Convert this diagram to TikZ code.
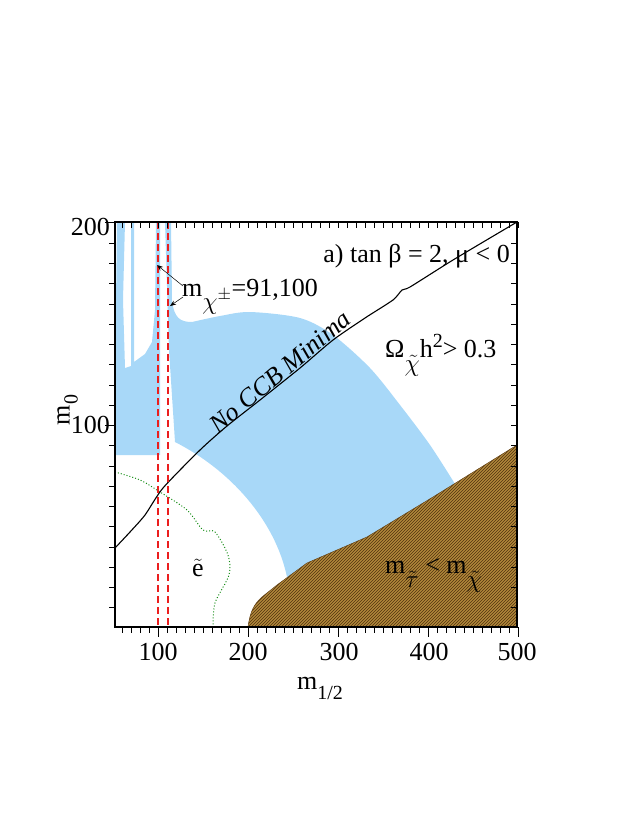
\documentclass[tikz,border=0pt]{standalone}
\usepackage{fontspec}
\setmainfont{Liberation Serif}
\usetikzlibrary{patterns,arrows.meta}
\definecolor{skyb}{RGB}{168,216,248}
\definecolor{brownc}{RGB}{178,136,58}
\definecolor{darkb}{RGB}{80,50,15}
\definecolor{redd}{RGB}{235,30,30}
\definecolor{greend}{RGB}{20,140,20}
\tikzset{lbl/.style={font=\fontsize{26}{28}\selectfont, inner sep=0pt},
 tk/.style={line width=0.8pt}}
\newcommand{\subsz}{\fontsize{20}{21}\selectfont}
\begin{document}
\begin{tikzpicture}[x=1pt,y=-1pt]
\useasboundingbox (0,0) rectangle (623,830);
% blue left part
\fill[skyb] (115,455) -- (115,385) -- (117,222) -- (125,222) -- (123,300) -- (125,368) -- (131,366) -- (131,222) -- (134,222) -- (134,362) -- (145,354) -- (152,342) -- (155,310) -- (156,222) -- (160,222) -- (160,455) -- cycle;
% blue right part
\fill[skyb] (165,222) -- (171,222) -- (172,300) .. controls (174,318) and (180,322) .. (192,322)
 -- plot[smooth] coordinates {(192,322) (220,316) (250,312) (300,318) (333,335) (370,368) (400,405) (430,445) (455,484)}
 -- (455,495) -- (300,600) -- (287,577)
 .. controls (275,520) and (230,470) .. (175,442) -- (169,350) -- cycle;
% hatched
\path[fill=brownc, postaction={pattern=north east lines, pattern color=darkb}]
 (248,627) .. controls (250,612) and (254,604) .. (262,597) -- (277,585) -- (307,563) -- (367,537) -- (433,497) -- (517,445) -- (517,627) -- cycle;
\draw[darkb!80!brownc, line width=0.5pt] (248,627) .. controls (250,612) and (254,604) .. (262,597) -- (277,585) -- (307,563) -- (367,537) -- (433,497) -- (517,445);
% green dotted
\draw[greend, dotted, line width=1pt] plot[smooth] coordinates {(115,472) (140,480) (160,492) (187,510) (203,530) (215,532) (228,555) (229,575) (215,603) (213,627)};
% CCB line
\draw[black, line width=1.1pt] plot[smooth, tension=0.4] coordinates {(115,548) (130,532) (145,515) (163,488) (200,450) (227,426) (260,400) (300,368) (333,340) (365,318) (393,300) (402,290) (410,287) (453,260) (517,222)};
% red dashed
\draw[redd, line width=1.3pt, dash pattern=on 7pt off 4pt] (158,222) -- (158,627);
\draw[redd, line width=1.3pt, dash pattern=on 7pt off 4pt] (168,222) -- (168,627);
% frame
\draw[line width=1.2pt] (115,222) rectangle (517,627);
% x ticks
\foreach \u in {60,70,...,500}{
  \pgfmathsetmacro\px{113+0.9*(\u-50)}
  \draw[tk] (\px,627) -- (\px,633);
  \draw[tk] (\px,222) -- (\px,228);}
\foreach \u in {100,200,...,500}{
  \pgfmathsetmacro\px{113+0.9*(\u-50)}
  \draw[tk] (\px,627) -- (\px,637);}
% y ticks
\foreach \v in {10,20,...,190}{
  \pgfmathsetmacro\py{628-2.025*\v}
  \draw[tk] (115,\py) -- (109,\py);
  \draw[tk] (517,\py) -- (511,\py);}
\draw[tk] (115,425) -- (105,425);
\draw[tk] (115,222) -- (105,222);
% tick labels
\node[lbl, anchor=east] (y200) at (110,227) {200};
\node[lbl, anchor=east] (y100) at (110,425) {100};
\foreach \u/\p in {100/158,200/248,300/339,400/429,500/517}
  \node[lbl] (x\u) at (\p,652) {\u};
% axis labels
\node[lbl, rotate=90, anchor=south] (ylab) at (78,410) {m\raisebox{-8pt}{\subsz 0}};
\node[lbl] (xlab) at (320,688) {m\raisebox{-10pt}{\subsz 1/2}};
% texts
\node[lbl, anchor=base east] (title) at (510,262) {a) tan β = 2, μ < 0};
\node[lbl, anchor=base west] (omega) at (385,357) {Ω\raisebox{-14pt}{$\tilde\chi$}h\raisebox{10pt}{\subsz 2}> 0.3};
\node[lbl] (esel) at (198,568) {$\tilde{\mathrm{e}}$};
\node[lbl, anchor=base west] (stau) at (385,573) {m\raisebox{-14pt}{$\tilde\tau$} < m\raisebox{-14pt}{$\tilde\chi$}};
\node[lbl, anchor=base west] (charg) at (182,296) {m\raisebox{-13pt}{$\chi^{\pm}$}=91,100};
\node[lbl, rotate=40] (ccb) at (280,372) {\itshape No CCB Minima};
% arrows
\coordinate (t1) at (157,265);
\coordinate (t2) at (170,306);
\draw[-{Stealth[length=6pt]}, line width=0.5pt] (183,286) -- (t1);
\draw[-{Stealth[length=6pt]}, line width=0.5pt] (183,297) -- (t2);
\end{tikzpicture}
\end{document}
